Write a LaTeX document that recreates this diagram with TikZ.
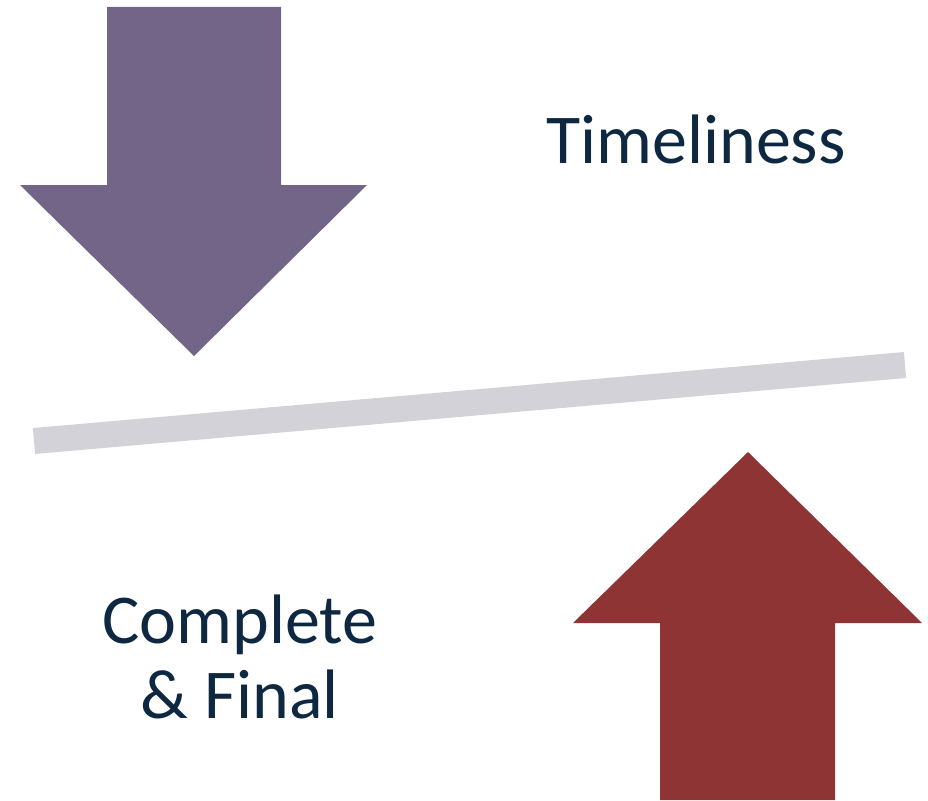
\documentclass[tikz,border=0pt]{standalone}
\usepackage{fontspec}
\setmainfont{Carlito}
\usepackage{tikz}
\usetikzlibrary{calc, positioning}
\definecolor{arrowpurple}{HTML}{736588}
\definecolor{arrowred}{HTML}{8E3434}
\definecolor{bargray}{HTML}{D3D2D8}
\definecolor{textnavy}{HTML}{0E2841}
\tikzstyle{lbl}=[inner sep=0pt, anchor=base, text=textnavy, align=center, font=\fontsize{70}{75}\selectfont]
\tikzstyle{bar}=[draw=bargray, line width=26pt, line cap=butt]

\begin{document}
\begin{tikzpicture}[x=1pt, y=-1pt]
\useasboundingbox (0,0) rectangle (928,800);
% the downward arrow
\fill[arrowpurple] (107,7) -- (281,7) -- (281,185) -- (367,185) -- (194,356) -- (20,185) -- (107,185) -- cycle;
% the upward arrow
\fill[arrowred] (660,800) -- (835,800) -- (835,623) -- (922,623) -- (748,452) -- (573,623) -- (660,623) -- cycle;
% the tilted bar
\coordinate (barL) at (34,441);
\coordinate (barR) at (905,365);
\draw[bar] (barL) -- (barR);
% the labels
\node[lbl] (time) at (696,163) {Timeliness};
\node[lbl] (compl) at (240,718) {Complete\\\& Final};
\end{tikzpicture}
\end{document}
